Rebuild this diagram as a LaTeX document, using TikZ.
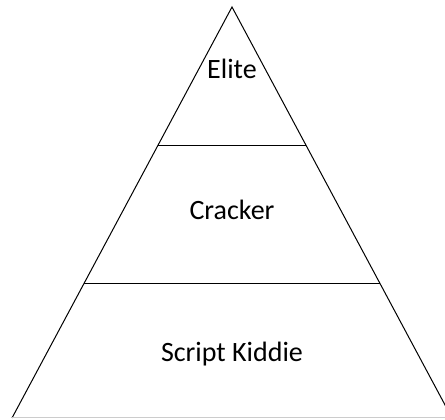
\documentclass[tikz,border=0pt]{standalone}
\usepackage{fontspec}
\setmainfont{Carlito}
\usetikzlibrary{calc}

\begin{document}
\begin{tikzpicture}[x=1pt,y=1pt,line width=1pt,
  level/.style={anchor=base,font=\fontsize{28}{32}\selectfont}]
  \useasboundingbox (0,0) rectangle (445,420);
  \clip (0,0) rectangle (445,420);
  \coordinate (top) at (232,413);
  \coordinate (bl) at (12,2);
  \coordinate (br) at (452,2);
  \draw (bl)--(top)--(br);
  \draw[gray!40] (bl)--(br);
  % levels
  \draw ($(bl)!0.664!(top)$) -- ($(br)!0.664!(top)$);
  \draw ($(bl)!0.328!(top)$) -- ($(br)!0.328!(top)$);
  \node[level] (elite) at (232,341) {Elite};
  \node[level] (cracker) at (232,200) {Cracker};
  \node[level] (kiddie) at (232,58) {Script Kiddie};
\end{tikzpicture}
\end{document}
